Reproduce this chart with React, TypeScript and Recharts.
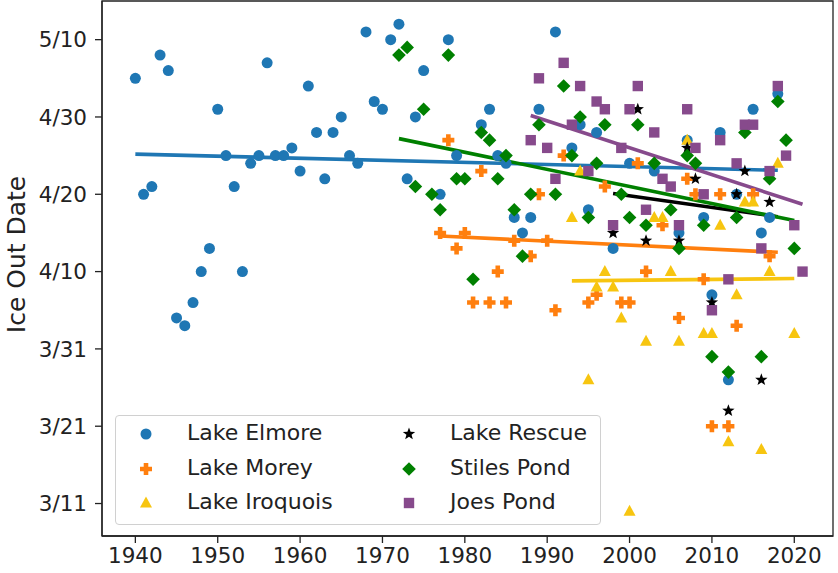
import {
  ScatterChart,
  Scatter,
  XAxis,
  YAxis,
  ReferenceLine,
  ReferenceArea,
  Legend,
} from "recharts";

// day-of-year values (3/11 = 70, 5/10 = 130)
const elmoreYears = [
  1940, 1941, 1942, 1943, 1944, 1945, 1946, 1947, 1948, 1949, 1950, 1951, 1952,
  1953, 1954, 1955, 1956, 1957, 1958, 1959, 1960, 1961, 1962, 1963, 1964, 1965,
  1966, 1967, 1968, 1969, 1970, 1971, 1972, 1973, 1974, 1975, 1977, 1978, 1979,
  1982, 1983, 1984, 1985, 1986, 1987, 1988, 1989, 1991, 1993, 1994, 1995, 1996,
  1998, 2000, 2003, 2006, 2007, 2009, 2010, 2011, 2012, 2013, 2015, 2016, 2017,
  2018,
];
const elmoreDays = [
  125, 110, 111, 128, 126, 94, 93, 96, 100, 103, 121, 115, 111, 100, 114, 115,
  127, 115, 115, 116, 113, 124, 118, 112, 118, 120, 115, 114, 131, 122, 121, 130,
  132, 112, 120, 126, 110, 130, 115, 119, 121, 115, 114, 107, 105, 107, 121, 131,
  116, 119, 108, 118, 103, 114, 113, 105, 117, 107, 97, 118, 86, 110, 121, 105,
  107, 123,
];

const moreyYears = [
  1977, 1978, 1979, 1980, 1981, 1982, 1983, 1984, 1985, 1986, 1988, 1989, 1990,
  1991, 1992, 1995, 1996, 1997, 1999, 2000, 2001, 2002, 2004, 2006, 2007, 2008,
  2009, 2010, 2011, 2012, 2013, 2015, 2017,
];
const moreyDays = [
  105, 117, 103, 105, 96, 113, 96, 100, 96, 104, 102, 110, 104, 95, 115, 96, 97,
  111, 96, 96, 114, 100, 106, 94, 112, 110, 99, 80, 110, 80, 93, 110, 102,
];

const iroquoisYears = [
  1993, 1994, 1995, 1996, 1997, 1998, 1999, 2000, 2002, 2003, 2004, 2005, 2006,
  2007, 2009, 2010, 2011, 2012, 2013, 2014, 2015, 2016, 2017, 2018, 2020,
];
const iroquoisDays = [
  107, 113, 86, 98, 100, 98, 94, 69, 91, 107, 107, 100, 91, 117, 92, 92, 106, 78,
  97, 109, 109, 77, 100, 114, 92,
];

const rescueYears = [
  1998, 2001, 2002, 2006, 2007, 2008, 2010, 2012, 2013, 2014, 2016, 2017,
];
const rescueDays = [105, 121, 104, 104, 116, 112, 96, 82, 110, 113, 86, 109];

const stilesYears = [
  1972, 1973, 1974, 1975, 1976, 1977, 1978, 1979, 1980, 1981, 1982, 1983, 1984,
  1985, 1986, 1987, 1988, 1989, 1991, 1992, 1993, 1994, 1995, 1996, 1997, 1999,
  2000, 2001, 2002, 2003, 2005, 2006, 2007, 2008, 2009, 2010, 2012, 2013, 2014,
  2016, 2017, 2018, 2019, 2020,
];
const stilesDays = [
  128, 129, 111, 121, 110, 108, 128, 112, 112, 99, 118, 117, 112, 115, 108, 102,
  110, 119, 110, 124, 115, 120, 107, 114, 119, 110, 107, 119, 106, 114, 108, 103,
  115, 114, 106, 89, 87, 107, 118, 89, 112, 122, 117, 103,
];

const joesYears = [
  1988, 1989, 1990, 1991, 1992, 1993, 1994, 1995, 1996, 1997, 1998, 1999, 2000,
  2001, 2002, 2003, 2004, 2005, 2006, 2007, 2008, 2009, 2010, 2011, 2012, 2013,
  2014, 2015, 2016, 2017, 2018, 2019, 2020, 2021,
];
const joesDays = [
  117, 125, 116, 112, 127, 119, 124, 113, 122, 121, 106, 116, 121, 124, 108, 118,
  112, 111, 106, 121, 116, 110, 95, 117, 99, 114, 119, 119, 103, 113, 124, 115,
  106, 100,
];

// trend line end points [year, day]
const elmoreTrend = [[1940, 115.2], [2018, 113.1]];
const moreyTrend = [[1977, 104.6], [2018, 102.5]];
const iroquoisTrend = [[1993, 98.8], [2020, 99.1]];
const rescueTrend = [[1998, 110.1], [2018, 107.1]];
const stilesTrend = [[1972, 117.2], [2020, 106.6]];
const joesTrend = [[1988, 120.2], [2021, 108.7]];

const xTicks = [1940, 1950, 1960, 1970, 1980, 1990, 2000, 2010, 2020];
const yTicks = [70, 80, 90, 100, 110, 120, 130];
const yTickLabels = ["3/11", "3/21", "3/31", "4/10", "4/20", "4/30", "5/10"];

const X_MIN = 1935.95;
const X_MAX = 2024.7;
const Y_MIN = 65.8;
const Y_MAX = 135;

const FONT = "DejaVu Sans";

const toPoints = (xs: number[], ys: number[]) =>
  xs.map((x, i) => ({ x, y: ys[i] }));

function markerPath(kind: string, cx: number, cy: number, color: string) {
  switch (kind) {
    case "circle":
      return <circle cx={cx} cy={cy} r={5.5} fill={color} />;
    case "plus": {
      const a = 6;
      const t = 2.3;
      const d = `M${cx - t},${cy - a}H${cx + t}V${cy - t}H${cx + a}V${cy + t}H${cx + t}V${cy + a}H${cx - t}V${cy + t}H${cx - a}V${cy - t}H${cx - t}Z`;
      return <path d={d} fill={color} />;
    }
    case "triangle":
      return (
        <polygon
          points={`${cx},${cy - 6.5} ${cx + 6},${cy + 4.5} ${cx - 6},${cy + 4.5}`}
          fill={color}
        />
      );
    case "star": {
      const pts: string[] = [];
      for (let i = 0; i < 10; i++) {
        const r = i % 2 === 0 ? 6.5 : 2.7;
        const ang = -Math.PI / 2 + (i * Math.PI) / 5;
        pts.push(`${cx + r * Math.cos(ang)},${cy + r * Math.sin(ang)}`);
      }
      return <polygon points={pts.join(" ")} fill={color} />;
    }
    case "diamond":
      return (
        <polygon
          points={`${cx},${cy - 6.8} ${cx + 6.8},${cy} ${cx},${cy + 6.8} ${cx - 6.8},${cy}`}
          fill={color}
        />
      );
    default:
      return <rect x={cx - 5.2} y={cy - 5.2} width={10.4} height={10.4} fill={color} />;
  }
}

const series = [
  { name: "Lake Elmore", kind: "circle", color: "#1f77b4", data: toPoints(elmoreYears, elmoreDays), trend: elmoreTrend },
  { name: "Lake Morey", kind: "plus", color: "#ff7f0e", data: toPoints(moreyYears, moreyDays), trend: moreyTrend },
  { name: "Lake Iroquois", kind: "triangle", color: "#f7c510", data: toPoints(iroquoisYears, iroquoisDays), trend: iroquoisTrend },
  { name: "Lake Rescue", kind: "star", color: "#000000", data: toPoints(rescueYears, rescueDays), trend: rescueTrend },
  { name: "Stiles Pond", kind: "diamond", color: "#008000", data: toPoints(stilesYears, stilesDays), trend: stilesTrend },
  { name: "Joes Pond", kind: "square", color: "#874a8c", data: toPoints(joesYears, joesDays), trend: joesTrend },
];

function LegendBox() {
  return (
    <div
      style={{
        width: 484,
        height: 108,
        border: "1px solid #d0d0d0",
        borderRadius: 4,
        background: "rgba(255,255,255,0.8)",
        position: "relative",
        fontFamily: FONT,
        fontSize: 22,
        color: "#222",
      }}
    >
      {series.map((s, i) => {
        const col = Math.floor(i / 3);
        const row = i % 3;
        const left = col === 0 ? 0 : 263;
        const top = 18 + row * 34.5;
        return (
          <div key={s.name}>
            <svg
              width={20}
              height={20}
              style={{ position: "absolute", left: left + 20, top: top - 10 }}
            >
              {markerPath(s.kind, 10, 10, s.color)}
            </svg>
            <span
              style={{
                position: "absolute",
                left: left + 71,
                top: top - 14,
                lineHeight: "26px",
                whiteSpace: "nowrap",
              }}
            >
              {s.name}
            </span>
          </div>
        );
      })}
    </div>
  );
}

export default function App() {
  return (
    <div style={{ position: "absolute", left: 0, top: 0, background: "#fff" }}>
      <ScatterChart
        width={838}
        height={573}
        margin={{ top: 1, right: 5, bottom: 0, left: 0 }}
      >
        <XAxis
          type="number"
          dataKey="x"
          domain={[X_MIN, X_MAX]}
          ticks={xTicks}
          allowDataOverflow
          height={37}
          tickSize={7}
          tickMargin={5}
          stroke="#222"
          strokeWidth={1.3}
          tick={{ fill: "#222", fontSize: 21.5, fontFamily: FONT }}
        />
        <YAxis
          type="number"
          dataKey="y"
          domain={[Y_MIN, Y_MAX]}
          ticks={yTicks}
          allowDataOverflow
          width={102}
          tickSize={7}
          tickMargin={8}
          stroke="#222"
          strokeWidth={1.3}
          tickFormatter={(v: number) => yTickLabels[yTicks.indexOf(v)] ?? ""}
          tick={{ fill: "#222", fontSize: 21.5, fontFamily: FONT }}
          label={{
            value: "Ice Out Date",
            angle: -90,
            position: "insideLeft",
            dx: 11,
            dy: -14,
            style: { fontSize: 25, fontFamily: FONT, fill: "#222", textAnchor: "middle" },
          }}
        />
        <ReferenceArea
          x1={X_MIN}
          x2={X_MAX}
          y1={Y_MIN}
          y2={Y_MAX}
          fill="none"
          stroke="#222"
          strokeWidth={1.3}
          ifOverflow="visible"
        />
        {series.map((s) => (
          <Scatter
            key={s.name}
            name={s.name}
            data={s.data}
            isAnimationActive={false}
            shape={(p: any) => markerPath(s.kind, p.cx, p.cy, s.color)}
          />
        ))}
        {series.map((s) => (
          <ReferenceLine
            key={s.name + "-trend"}
            segment={[
              { x: s.trend[0][0], y: s.trend[0][1] },
              { x: s.trend[1][0], y: s.trend[1][1] },
            ]}
            stroke={s.color}
            strokeWidth={3.6}
            ifOverflow="visible"
          />
        ))}
        <Legend
          layout="horizontal"
          verticalAlign="middle"
          align="center"
          content={() => <LegendBox />}
          wrapperStyle={{ left: 115, top: 415, width: 486, height: 110, bottom: "auto", right: "auto" }}
        />
      </ScatterChart>
    </div>
  );
}
